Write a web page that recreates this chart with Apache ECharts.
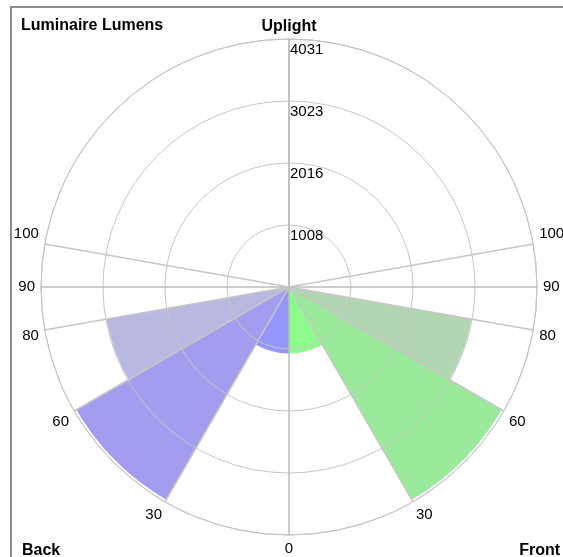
<!DOCTYPE html>
<html><head><meta charset="utf-8">
<script src="https://cdn.jsdelivr.net/npm/echarts@6/dist/echarts.min.js"></script>
<style>
html,body{margin:0;padding:0;background:#fff;overflow:hidden;}
#frame{position:absolute;left:10px;top:6px;width:600px;height:600px;border-left:2px solid #8c8c8c;border-top:2px solid #8c8c8c;}
#chart{position:absolute;left:0;top:0;width:563px;height:557px;}
</style></head><body>
<div id="frame"></div>
<div id="chart"></div>
<script>
// zones, angles measured from nadir (0 = straight down)
const zoneStart = [0, 30, 60];
const zoneEnd = [30, 60, 80];
const frontLumens = [1080, 3990, 3010];
const backLumens = [1080, 3990, 3010];
const frontColors = ['#8cfc8c', '#9be99b', '#b2d6b2'];
const backColors = ['#9595fc', '#a39df0', '#b9b8e0'];
const ringTicks = [1008, 2016, 3023, 4031];
const angleLabels = [0, 30, 60, 80, 90, 100];
const gridAngles = [0, 30, 60, 80, 90, 100];

const maxLumens = ringTicks[ringTicks.length - 1];
const ringStep = maxLumens / ringTicks.length;

// angle-axis value: 0 at top (uplight), clockwise; front on right, back on left
const frontToAxis = a => 180 - a;
const backToAxis = a => 180 + a;

const sectors = [];
zoneStart.forEach((s, i) => {
  sectors.push([frontLumens[i], frontToAxis(zoneEnd[i]), frontToAxis(s), 0, i]);
  sectors.push([backLumens[i], backToAxis(s), backToAxis(zoneEnd[i]), 1, i]);
});

const visibleGrid = new Set([0, 180, 360]);
gridAngles.forEach(a => { visibleGrid.add(frontToAxis(a)); visibleGrid.add(backToAxis(a)); });
const gridColors = [];
for (let v = 0; v <= 360; v += 10) {
  const strong = (v % 90 === 0);
  gridColors.push(visibleGrid.has(v) ? (strong ? '#bcbcbc' : '#c6c6c6') : 'rgba(0,0,0,0)');
}

const chart = echarts.init(document.getElementById('chart'), null, {renderer: 'canvas'});
const font = 'Liberation Sans, Arial, sans-serif';
chart.setOption({
  animation: false,
  backgroundColor: 'transparent',
  title: [
    {text: 'Luminaire Lumens', left: 21, top: 18, padding: 0,
     textStyle: {fontSize: 16, fontWeight: 'bold', color: '#000', fontFamily: font}},
    {text: 'Back', left: 22, top: 543, padding: 0,
     textStyle: {fontSize: 16, fontWeight: 'bold', color: '#000', fontFamily: font}},
    {text: 'Front', right: 3, top: 543, padding: 0,
     textStyle: {fontSize: 16, fontWeight: 'bold', color: '#000', fontFamily: font}}
  ],
  polar: {center: [289, 287], radius: 248},
  angleAxis: {
    type: 'value', min: 0, max: 360, interval: 10,
    startAngle: 90, clockwise: true, z: 10,
    axisLine: {show: true, lineStyle: {color: '#c2c2c2', width: 1}},
    axisTick: {show: false},
    splitLine: {show: true, lineStyle: {color: gridColors, width: 1.5}},
    axisLabel: {
      show: true, margin: 6, color: '#000', fontSize: 15, fontFamily: font,
      formatter: function (v) {
        if (v === 0) return '{b|Uplight}';
        if (v >= 360) return '';
        const a = v <= 180 ? 180 - v : v - 180;
        if (angleLabels.indexOf(a) < 0) return '';
        if (a === 100) return '{up|' + a + '}';
        if (a === 80) return '{dn|' + a + '}';
        return String(a);
      },
      rich: {
        b: {fontWeight: 'bold', fontSize: 16, lineHeight: 12, color: '#000', fontFamily: font},
        up: {fontSize: 15, color: '#000', fontFamily: font, padding: [0, 0, 19, 0]},
        dn: {fontSize: 15, color: '#000', fontFamily: font, padding: [9, 0, 0, 0]}
      }
    }
  },
  radiusAxis: {
    type: 'value', min: 0, max: maxLumens, interval: ringStep, z: 10,
    axisLine: {show: true, lineStyle: {color: '#bcbcbc', width: 1.5}},
    axisTick: {show: false},
    splitLine: {show: true, lineStyle: {color: '#c6c6c6', width: 1}},
    axisLabel: {
      show: true, margin: -1, align: 'left', verticalAlign: 'top',
      padding: [3, 0, 0, 0],
      color: '#000', fontSize: 15, fontFamily: font,
      formatter: function (v) {
        const k = Math.round(v / ringStep);
        return k === 0 ? '' : String(ringTicks[k - 1]);
      }
    }
  },
  series: [{
    type: 'custom',
    coordinateSystem: 'polar',
    z: 1,
    data: sectors,
    renderItem: function (params, api) {
      const r = api.value(0), a0 = api.value(1), a1 = api.value(2);
      const side = api.value(3), idx = api.value(4);
      const pts = [api.coord([0, a0])];
      for (let a = a0; a < a1; a += 0.5) pts.push(api.coord([r, a]));
      pts.push(api.coord([r, a1]));
      return {
        type: 'polygon',
        shape: {points: pts},
        style: {fill: side === 0 ? frontColors[idx] : backColors[idx], stroke: null}
      };
    }
  }]
});
</script>
</body></html>
